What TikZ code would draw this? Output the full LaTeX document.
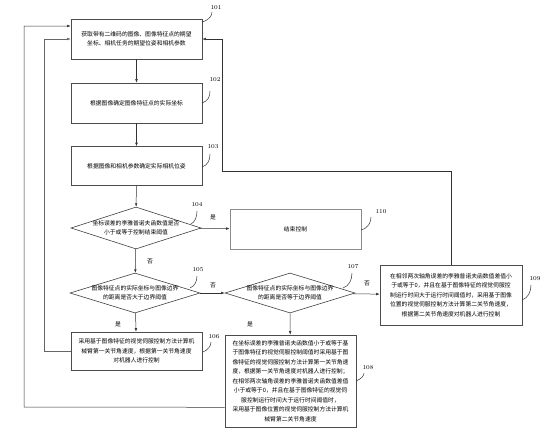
\documentclass[tikz,border=0pt]{standalone}
\usepackage{fontspec}
\newfontfamily\cjk{Noto Sans CJK SC}
\usetikzlibrary{shapes.geometric,arrows.meta,calc}
\begin{document}
\begin{tikzpicture}[x=1pt,y=-1pt,
  box/.style={draw=black!70,line width=0.6pt,minimum width=131pt,minimum height=40pt,inner sep=1pt,align=center,font=\cjk\fontsize{5.8}{9.5}\selectfont},
  dia/.style={draw=black!75,line width=0.6pt,diamond,minimum width=130pt,minimum height=42pt,inner sep=0pt,aspect=3},
  dtext/.style={align=center,font=\cjk\fontsize{5.8}{9}\selectfont,inner sep=0pt},
  arr/.style={-{Latex[length=3.5pt,width=2.6pt]},draw=black!80,line width=0.5pt},
  tag/.style={font=\fontsize{6}{7}\selectfont,inner sep=0pt},
  yn/.style={font=\cjk\fontsize{5.8}{7}\selectfont,inner sep=0pt},
  lead/.style={draw=black!80,line width=0.5pt}
]
\useasboundingbox (0,0) rectangle (544,440);

% boxes
\node[box] (b101) at (136.5,39) {获取带有二维码的图像、图像特征点的期望\\坐标、相机任务的期望位姿和相机参数};
\node[box] (b102) at (136.5,103) {根据图像确定图像特征点的实际坐标};
\node[box,minimum height=39pt] (b103) at (136.5,166) {根据图像和相机参数确定实际相机位姿};
\node[dia] (d104) at (136,228) {};
\node[dtext] at (d104.center) {坐标误差的李雅普诺夫函数值是否\\小于或等于控制结束阈值};
\node[box,draw=black!45] (b110) at (295.5,229) {结束控制};
\node[dia,minimum height=40pt] (d105) at (135,293) {};
\node[dtext] at (d105.center) {图像特征点的实际坐标与图像边界\\的距离是否大于边界阈值};
\node[dia,minimum height=40pt] (d107) at (290,293) {};
\node[dtext] at (d107.center) {图像特征点的实际坐标与图像边界\\的距离是否等于边界阈值};
\node[box,minimum height=38pt] (b106) at (136.5,351) {采用基于图像特征的视觉伺服控制方法计算机\\械臂第一关节角速度，根据第一关节角速度\\对机器人进行控制};
\node[box,minimum width=131pt,minimum height=92pt] (b108) at (290.5,381) {在坐标误差的李雅普诺夫函数值小于或等于基\\于图像特征的视觉伺服控制阈值时采用基于图\\像特征的视觉伺服控制方法计算第一关节角速\\度，根据第一关节角速度对机器人进行控制；\\在相邻两次轴角误差的李雅普诺夫函数值差值\\小于或等于0，并且在基于图像特征的视觉伺\\服控制运行时间大于运行时间阈值时，\\采用基于图像位置的视觉伺服控制方法计算机\\械臂第二关节角速度};
\node[box,minimum width=142pt,minimum height=60pt] (b109) at (451,295) {在相邻两次轴角误差的李雅普诺夫函数值差值小\\于或等于0，并且在基于图像特征的视觉伺服控\\制运行时间大于运行时间阈值时，采用基于图像\\位置的视觉伺服控制方法计算第二关节角速度，\\根据第二关节角速度对机器人进行控制};

% main flow
\draw[arr] (b101) -- (b102);
\draw[arr] (b102) -- (b103);
\draw[arr] (b103) -- (d104);
\draw[arr] (d104) -- (b110);
\draw[arr] (d104) -- (d105);
\draw[arr] (d105) -- (b106);
\draw[arr] (d105) -- (d107);
\draw[arr] (d107) -- (b108);
\draw[arr] (d107) -- (b109);

\node[yn] (y1) at (213,217) {是};
\node[yn] (n1) at (150,261) {否};
\node[yn] (n2) at (213,285) {否};
\node[yn] (n3) at (367,283) {否};
\node[yn] (y2) at (118,324) {是};
\node[yn] (y3) at (250,324) {是};

% loops
\coordinate (c1) at (222,171);
\draw[arr] (b109.north) |- (c1) |- (b101.east);
\coordinate (c2) at (44,351);
\draw[arr,draw=black!60] (b106.west) -- (c2) |- (b101.west);
\coordinate (c3a) at ($(b108.south west)+(0,-20)$);
\coordinate (c3) at (24,407);
\draw[arr] (c3a) -- (c3) |- ($(b101.west)+(0,-13)$);

% reference tags
\node[tag] (t101) at (216,8) {101};
\draw[lead] (202,22) .. controls (209,20) and (212,16) .. (212,12);
\node[tag] (t102) at (215,80) {102};
\draw[lead] (202,103) .. controls (208,101) and (210,97) .. (210,91);
\node[tag] (t103) at (213,147) {103};
\draw[lead] (202,167) .. controls (208,165) and (210,160) .. (210,154);
\node[tag] (t104) at (197,205) {104};
\draw[lead] (191,224) .. controls (195,222) and (197,217) .. (197,211);
\node[tag] (t105) at (198,270) {105};
\draw[lead] (190,288) .. controls (195,286) and (197,281) .. (197,276);
\node[tag] (t107) at (353,267) {107};
\draw[lead] (343,288) .. controls (349,286) and (352,280) .. (352,273);
\node[tag] (t109) at (535,279) {109};
\draw[lead] (522,300) .. controls (528,298) and (531,292) .. (531,285);
\node[tag] (t110) at (381,212) {110};
\draw[lead] (361,230) .. controls (368,228) and (371,223) .. (371,217);
\node[tag] (t106) at (214,337) {106};
\draw[lead] (203,352) .. controls (208,350) and (211,346) .. (211,342);
\node[tag] (t108) at (368,368) {108};
\draw[lead] (356,381) .. controls (361,379) and (364,376) .. (364,373);
\end{tikzpicture}
\end{document}
